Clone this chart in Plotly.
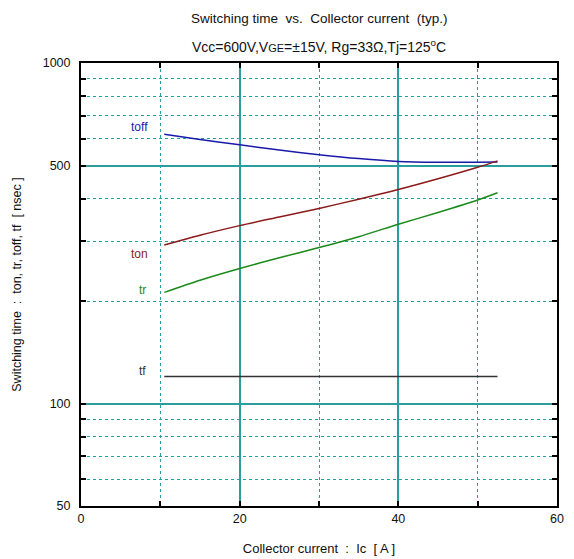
import math
import plotly.graph_objects as go

ic = [10.5, 15, 20, 25, 30, 35, 40, 45, 50, 52.5]
toff = [618, 596, 575, 555, 538, 524, 514, 511, 511, 512]
ton = [292, 312, 333, 353, 374, 398, 425, 457, 494, 516]
tr = [212, 230, 249, 268, 287, 309, 336, 364, 396, 416]
tf = [120, 120, 120, 120, 120, 120, 120, 120, 120, 120]

series_names = ["toff", "ton", "tr", "tf"]
series_vals = [toff, ton, tr, tf]
series_colors = ["#1a1aaa", "#8b1a1a", "#1a8a1a", "#333333"]
label_x = [7.4, 7.4, 7.8, 7.7]
label_y = [650, 275, 215, 125]

x_major = [0, 20, 40, 60]
x_minor = [10, 30, 50]
y_major = [50, 100, 500, 1000]
y_minor = [60, 70, 80, 90, 200, 300, 400, 600, 700, 800, 900]

FONT = "Liberation Sans, Arial, sans-serif"
GRID = "#2a9d9d"
NB = "\u00a0"

fig = go.Figure()
for name, vals, col in zip(series_names, series_vals, series_colors):
    fig.add_trace(go.Scatter(x=ic, y=vals, mode="lines", name=name,
                             line=dict(color=col, width=1.5, shape="spline", smoothing=0.8),
                             showlegend=False, hoverinfo="skip"))
for name, col, lx, ly in zip(series_names, series_colors, label_x, label_y):
    fig.add_annotation(x=lx, y=math.log10(ly), yref="y", xref="x", text=name,
                       showarrow=False, font=dict(color=col, size=12, family=FONT),
                       xanchor="center", yanchor="middle")

fig.add_annotation(text=f"Switching time{NB} vs.{NB} Collector current{NB} (typ.)",
                   xref="paper", yref="paper", x=0.5, y=1.0, yshift=45, yanchor="middle",
                   showarrow=False, font=dict(size=13.5, family=FONT, color="#111"))
fig.add_annotation(text="Vcc=600V,V<span style='font-size:11px'>GE</span>=±15V, Rg=33Ω,Tj=125<sup>o</sup>C",
                   xref="paper", yref="paper", x=0.5, y=1.0, yshift=17, yanchor="middle",
                   showarrow=False, font=dict(size=14, family=FONT, color="#111"))

fig.update_layout(
    width=574, height=559,
    margin=dict(l=81, r=17, t=63, b=53),
    paper_bgcolor="white", plot_bgcolor="white",
    font=dict(family=FONT, size=12, color="#111"),
)
fig.update_xaxes(
    range=[0, 60], tickmode="array", tickvals=x_major, automargin=False,
    ticks="inside", ticklen=5, tickwidth=2, tickcolor="black",
    showline=True, linecolor="black", linewidth=2, mirror="allticks",
    showgrid=True, gridcolor=GRID, gridwidth=1.5,
    zeroline=False,
    minor=dict(tickvals=x_minor, ticks="inside", ticklen=5, tickwidth=2, tickcolor="black",
               showgrid=True, gridcolor=GRID, griddash="dot", gridwidth=1),
    title=dict(text=f"Collector current{NB} :{NB} Ic{NB} [ A ]", font=dict(size=13), standoff=19),
    tickfont=dict(size=12.5),
)
fig.update_yaxes(
    type="log", range=[math.log10(50), 3], tickmode="array", tickvals=y_major,
    ticktext=[str(v) for v in y_major], automargin=False,
    ticks="inside", ticklen=5, tickwidth=2, tickcolor="black",
    showline=True, linecolor="black", linewidth=2, mirror="allticks",
    showgrid=True, gridcolor=GRID, gridwidth=1.5,
    zeroline=False, ticklabelstandoff=6,
    minor=dict(tickvals=y_minor, ticks="inside", ticklen=5, tickwidth=2, tickcolor="black",
               showgrid=True, gridcolor=GRID, griddash="dot", gridwidth=1),
    title=dict(text=f"Switching time{NB} :{NB} ton, tr, toff, tf{NB} [ nsec ]", font=dict(size=12.5), standoff=18),
    tickfont=dict(size=12.5),
)
fig.write_html("out.html", config={"displayModeBar": False},
               post_script="document.body.style.margin='0';document.body.style.overflow='hidden';")
